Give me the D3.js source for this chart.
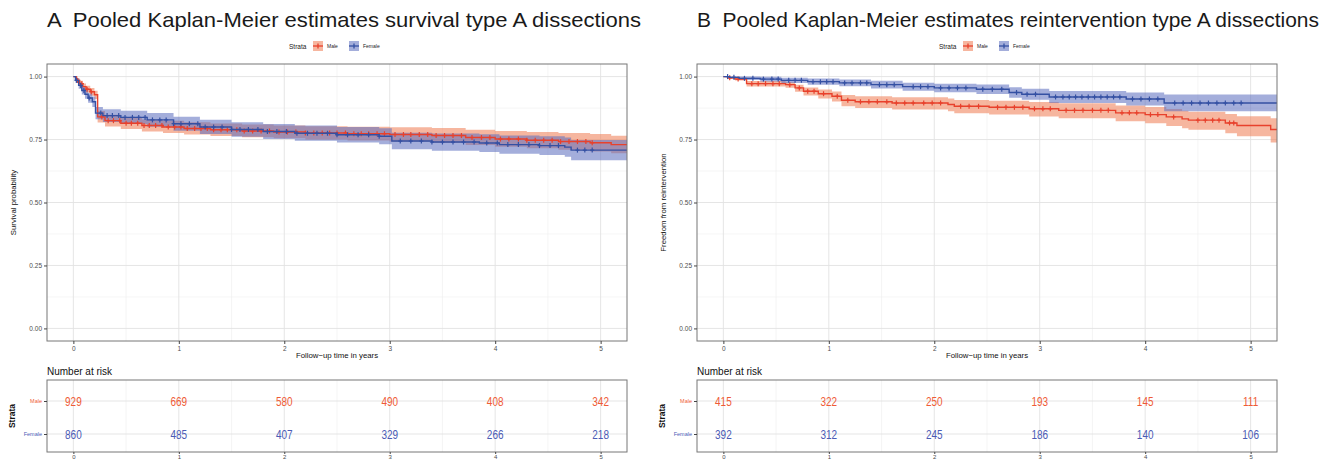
<!DOCTYPE html>
<html>
<head>
<meta charset="utf-8">
<script src="https://cdn.jsdelivr.net/npm/d3@7"></script>
<style>
  body { margin: 0; background: #fff; }
  svg { font-family: "Liberation Sans", Arial, sans-serif; }
</style>
</head>
<body>
<svg id="chart" width="1334" height="461"></svg>
<script>
// ---- data ----
let strata = ["Male", "Female"];
let riskTimes = [0, 1, 2, 3, 4, 5];
let xTicks = [0, 1, 2, 3, 4, 5];
let yTicks = [0, 0.25, 0.5, 0.75, 1];

// panel A: survival
let survMaleT  = [0,0.03,0.06,0.09,0.12,0.16,0.20,0.23,0.30,0.45,0.65,0.85,1.05,1.30,1.60,1.90,2.20,2.60,3.00,3.40,3.72,4.00,4.30,4.60,4.90,5.10,5.25];
let survMaleS  = [1,0.985,0.972,0.960,0.950,0.940,0.928,0.840,0.825,0.815,0.806,0.800,0.794,0.789,0.784,0.780,0.776,0.773,0.770,0.766,0.758,0.752,0.747,0.742,0.737,0.730,0.730];
let survMaleLo = [1,0.977,0.961,0.947,0.936,0.924,0.911,0.818,0.802,0.792,0.782,0.776,0.770,0.764,0.759,0.755,0.750,0.746,0.742,0.737,0.728,0.721,0.715,0.709,0.703,0.696,0.696];
let survMaleHi = [1,0.993,0.983,0.973,0.964,0.955,0.944,0.863,0.848,0.839,0.830,0.825,0.819,0.814,0.810,0.806,0.803,0.801,0.799,0.796,0.789,0.784,0.780,0.776,0.772,0.765,0.765];
let survMaleCens = [0.04,0.08,0.13,0.17,0.27,0.33,0.38,0.44,0.5,0.55,0.61,0.67,0.72,0.78,0.84,0.9,0.96,1.02,1.08,1.15,1.21,1.27,1.33,1.4,1.46,1.55,1.62,1.7,1.78,1.86,1.95,2.03,2.11,2.2,2.28,2.36,2.43,2.5,2.58,2.66,2.73,2.8,2.88,2.95,3.05,3.13,3.2,3.28,3.36,3.44,3.52,3.6,3.68,3.78,3.87,3.95,4.05,4.13,4.22,4.3,4.38,4.46,4.54,4.62,4.7,4.78,4.86,4.92];

let survFemT  = [0,0.02,0.05,0.08,0.11,0.14,0.18,0.21,0.28,0.45,0.70,0.95,1.20,1.50,1.80,2.10,2.50,2.90,3.02,3.40,3.85,4.04,4.42,4.66,4.72,5.25];
let survFemS  = [1,0.985,0.965,0.945,0.930,0.915,0.900,0.855,0.845,0.838,0.828,0.813,0.800,0.790,0.782,0.775,0.769,0.763,0.744,0.740,0.736,0.730,0.726,0.720,0.708,0.708];
let survFemLo = [1,0.976,0.952,0.929,0.912,0.896,0.879,0.831,0.820,0.812,0.801,0.785,0.772,0.761,0.752,0.745,0.738,0.731,0.711,0.706,0.701,0.694,0.689,0.682,0.668,0.668];
let survFemHi = [1,0.994,0.978,0.961,0.948,0.934,0.921,0.879,0.870,0.864,0.855,0.841,0.829,0.819,0.812,0.806,0.800,0.795,0.777,0.774,0.771,0.766,0.763,0.758,0.748,0.748];
let survFemCens = [0.03,0.07,0.1,0.15,0.26,0.32,0.37,0.43,0.49,0.56,0.62,0.68,0.75,0.82,0.88,0.95,1.02,1.1,1.18,1.25,1.33,1.41,1.5,1.58,1.66,1.75,1.84,1.93,2.02,2.12,2.22,2.31,2.41,2.5,2.6,2.7,2.8,2.9,3.1,3.2,3.3,3.4,3.5,3.6,3.7,3.8,3.92,4.02,4.12,4.22,4.32,4.42,4.52,4.6,4.78,4.85,4.92];

let survRiskMale = [929, 669, 580, 490, 408, 342];
let survRiskFem  = [860, 485, 407, 329, 266, 218];

// panel B: reintervention
let reintMaleT  = [0,0.05,0.11,0.22,0.59,0.68,0.76,0.90,1.03,1.12,1.25,1.60,2.13,2.19,2.52,2.90,3.18,3.72,4.00,4.20,4.35,4.41,4.76,4.87,5.19,5.25];
let reintMaleS  = [1,0.995,0.990,0.972,0.968,0.955,0.942,0.932,0.922,0.906,0.900,0.895,0.889,0.882,0.878,0.872,0.866,0.856,0.849,0.840,0.832,0.827,0.816,0.806,0.790,0.790];
let reintMaleLo = [1,0.991,0.984,0.961,0.956,0.940,0.925,0.913,0.901,0.882,0.875,0.869,0.862,0.854,0.849,0.842,0.835,0.823,0.815,0.804,0.795,0.789,0.775,0.763,0.738,0.738];
let reintMaleHi = [1,0.999,0.995,0.982,0.978,0.968,0.957,0.949,0.941,0.927,0.922,0.918,0.913,0.907,0.904,0.899,0.894,0.885,0.879,0.871,0.864,0.860,0.851,0.843,0.835,0.835];
let reintMaleCens = [0.06,0.14,0.27,0.33,0.4,0.47,0.53,0.63,0.72,0.8,0.86,0.95,1.08,1.18,1.3,1.38,1.46,1.55,1.64,1.72,1.8,1.9,1.98,2.06,2.25,2.33,2.42,2.6,2.68,2.76,2.84,2.95,3.03,3.1,3.25,3.33,3.41,3.5,3.58,3.65,3.78,3.85,3.92,4.05,4.12,4.27,4.5,4.57,4.64,4.7,4.8,4.84];

let reintFemT  = [0,0.06,0.15,0.35,0.55,0.80,1.10,1.40,1.70,2.00,2.40,2.71,2.83,3.09,3.82,4.18,5.25];
let reintFemS  = [1,0.997,0.993,0.990,0.985,0.980,0.975,0.968,0.960,0.955,0.950,0.937,0.930,0.919,0.911,0.895,0.895];
let reintFemLo = [1,0.992,0.986,0.981,0.975,0.968,0.962,0.953,0.944,0.938,0.931,0.916,0.908,0.895,0.885,0.862,0.862];
let reintFemHi = [1,1,1,0.999,0.995,0.992,0.988,0.983,0.976,0.972,0.969,0.958,0.952,0.943,0.937,0.929,0.929];
let reintFemCens = [0.04,0.1,0.2,0.28,0.38,0.46,0.52,0.62,0.68,0.74,0.85,0.92,0.98,1.04,1.15,1.22,1.3,1.36,1.48,1.55,1.62,1.8,1.87,1.94,2.06,2.14,2.22,2.3,2.46,2.55,2.64,2.78,2.88,2.96,3.15,3.22,3.28,3.34,3.4,3.46,3.52,3.58,3.64,3.7,3.76,3.88,3.96,4.04,4.12,4.28,4.36,4.44,4.52,4.6,4.68,4.76,4.84,4.91];

let reintRiskMale = [415, 322, 250, 193, 145, 111];
let reintRiskFem  = [392, 312, 245, 186, 140, 106];

// ---- styles ----
let lineCol = {Male: "#e8412c", Female: "#3450a3"};
let fillCol = {Male: "#ee7a50", Female: "#5a6bbe"};
let textCol = {Male: "#ef5b36", Female: "#4b5bb5"};

let svg = d3.select("#chart");

function zip(t, s, lo, hi) {
    return t.map((d, i) => ({t: d, s: s[i], lo: lo[i], hi: hi[i]}));
}

function styleAxis(a) {
    a.select(".domain").remove();
    a.selectAll(".tick line").attr("stroke", "#444");
    a.selectAll(".tick text").attr("font-size", 6.5).attr("fill", "#4d4d4d")
        .attr("font-family", "Liberation Sans, Arial, sans-serif");
}

function drawPanel(p) {
    let left = p.left, right = p.left + 580, top = 64, bottom = 341;
    let x = d3.scaleLinear().domain([-0.25, 5.25]).range([left, right]);
    let y = d3.scaleLinear().domain([-0.05, 1.05]).range([bottom, top]);

    // title
    svg.append("text")
        .attr("x", left).attr("y", 27)
        .attr("font-size", 21).attr("fill", "#1a1a1a")
        .attr("xml:space", "preserve")
        .attr("textLength", p.titleWidth).attr("lengthAdjust", "spacingAndGlyphs")
        .text(p.title);

    // legend
    let lg = svg.append("g").attr("transform", "translate(" + (left + 290) + ",46)");
    lg.append("text").attr("x", -48).attr("y", 2.5).attr("font-size", 6.5)
        .attr("fill", "#222").text("Strata");
    [["Male", -24], ["Female", 12]].forEach(function(k) {
        let g = lg.append("g").attr("transform", "translate(" + k[1] + ",-5)");
        g.append("rect").attr("width", 10).attr("height", 10)
            .attr("fill", fillCol[k[0]]).attr("fill-opacity", 0.55);
        g.append("line").attr("x1", 0).attr("x2", 10).attr("y1", 5).attr("y2", 5)
            .attr("stroke", lineCol[k[0]]).attr("stroke-width", 1.3);
        g.append("line").attr("x1", 5).attr("x2", 5).attr("y1", 2.5).attr("y2", 7.5)
            .attr("stroke", lineCol[k[0]]).attr("stroke-width", 1.3);
        lg.append("text").attr("x", k[1] + 14).attr("y", 2.2).attr("font-size", 5)
            .attr("fill", "#222").text(k[0]);
    });

    // grid
    let grid = svg.append("g");
    let minorX = d3.range(-0.5, 5.5, 1).filter(d => x(d) >= left && x(d) <= right);
    let minorY = [0.125, 0.375, 0.625, 0.875];
    grid.selectAll(".mx").data(minorX).enter().append("line")
        .attr("x1", d => x(d)).attr("x2", d => x(d)).attr("y1", top).attr("y2", bottom)
        .attr("stroke", "#efefef").attr("stroke-width", 0.6);
    grid.selectAll(".my").data(minorY).enter().append("line")
        .attr("x1", left).attr("x2", right).attr("y1", d => y(d)).attr("y2", d => y(d))
        .attr("stroke", "#efefef").attr("stroke-width", 0.6);
    grid.selectAll(".gx").data(xTicks).enter().append("line")
        .attr("x1", d => x(d)).attr("x2", d => x(d)).attr("y1", top).attr("y2", bottom)
        .attr("stroke", "#e2e2e2").attr("stroke-width", 0.9);
    grid.selectAll(".gy").data(yTicks).enter().append("line")
        .attr("x1", left).attr("x2", right).attr("y1", d => y(d)).attr("y2", d => y(d))
        .attr("stroke", "#e2e2e2").attr("stroke-width", 0.9);

    // clip
    let clipId = "clip" + p.id;
    svg.append("clipPath").attr("id", clipId).append("rect")
        .attr("x", left).attr("y", top).attr("width", right - left).attr("height", bottom - top);
    let plot = svg.append("g").attr("clip-path", "url(#" + clipId + ")");

    let area = d3.area().curve(d3.curveStepAfter)
        .x(d => x(d.t)).y0(d => y(d.lo)).y1(d => y(d.hi));
    let line = d3.line().curve(d3.curveStepAfter)
        .x(d => x(d.t)).y(d => y(d.s));

    p.curves.forEach(function(c) {
        plot.append("path").datum(c.data).attr("d", area)
            .attr("fill", fillCol[c.key]).attr("fill-opacity", 0.55);
    });
    p.curves.forEach(function(c) {
        plot.append("path").datum(c.data).attr("d", line)
            .attr("fill", "none").attr("stroke", lineCol[c.key]).attr("stroke-width", 1.4);
        let ts = c.data.map(d => d.t);
        let cens = c.cens.map(function(ct) {
            let i = d3.bisectRight(ts, ct) - 1;
            return {t: ct, s: c.data[i].s};
        });
        let m = plot.append("g").attr("stroke", lineCol[c.key]).attr("stroke-width", 1.2);
        m.selectAll(".h").data(cens).enter().append("line")
            .attr("x1", d => x(d.t) - 2).attr("x2", d => x(d.t) + 2)
            .attr("y1", d => y(d.s)).attr("y2", d => y(d.s));
        m.selectAll(".v").data(cens).enter().append("line")
            .attr("x1", d => x(d.t)).attr("x2", d => x(d.t))
            .attr("y1", d => y(d.s) - 2.5).attr("y2", d => y(d.s) + 2.5);
    });

    // border
    svg.append("rect").attr("x", left).attr("y", top)
        .attr("width", right - left).attr("height", bottom - top)
        .attr("fill", "none").attr("stroke", "#777").attr("stroke-width", 1);

    // axes
    let xAxis = svg.append("g").attr("transform", "translate(0," + bottom + ")")
        .call(d3.axisBottom(x).tickValues(xTicks).tickFormat(d3.format("d")).tickSize(3).tickPadding(2));
    let yAxis = svg.append("g").attr("transform", "translate(" + left + ",0)")
        .call(d3.axisLeft(y).tickValues(yTicks).tickFormat(d3.format(".2f")).tickSize(3).tickPadding(2));
    styleAxis(xAxis);
    styleAxis(yAxis);

    svg.append("text").attr("x", (left + right) / 2).attr("y", 358)
        .attr("text-anchor", "middle").attr("font-size", 7.8).attr("fill", "#111")
        .text("Follow\u2212up time in years");
    svg.append("text")
        .attr("transform", "translate(" + (left - 31) + "," + ((top + bottom) / 2) + ") rotate(-90)")
        .attr("text-anchor", "middle").attr("font-size", 7.8).attr("fill", "#111")
        .text(p.ylab);

    // risk table
    let rTop = 380, rBottom = 452;
    let ry = d3.scalePoint().domain(strata).range([401, 434]);
    svg.append("text").attr("x", left).attr("y", 375).attr("font-size", 10)
        .attr("fill", "#111").text("Number at risk");
    let rg = svg.append("g");
    rg.selectAll(".rmx").data(minorX).enter().append("line")
        .attr("x1", d => x(d)).attr("x2", d => x(d)).attr("y1", rTop).attr("y2", rBottom)
        .attr("stroke", "#efefef").attr("stroke-width", 0.6);
    rg.selectAll(".rgx").data(xTicks).enter().append("line")
        .attr("x1", d => x(d)).attr("x2", d => x(d)).attr("y1", rTop).attr("y2", rBottom)
        .attr("stroke", "#e2e2e2").attr("stroke-width", 0.9);
    rg.selectAll(".rgy").data(strata).enter().append("line")
        .attr("x1", left).attr("x2", right).attr("y1", d => ry(d)).attr("y2", d => ry(d))
        .attr("stroke", "#e2e2e2").attr("stroke-width", 0.9);

    p.risk.forEach(function(r) {
        rg.selectAll(".n" + r.key).data(r.values).enter().append("text")
            .attr("transform", (d, i) => "translate(" + x(riskTimes[i]) + "," + (ry(r.key) + 4.5) + ") scale(0.8,1)")
            .attr("text-anchor", "middle").attr("font-size", 12.5)
            .attr("fill", textCol[r.key]).text(d => d);
    });

    svg.append("rect").attr("x", left).attr("y", rTop)
        .attr("width", right - left).attr("height", rBottom - rTop)
        .attr("fill", "none").attr("stroke", "#777").attr("stroke-width", 1);

    // bottom ticks of the risk table sit right at the page edge
    let rx = svg.append("g").attr("transform", "translate(0," + rBottom + ")")
        .call(d3.axisBottom(x).tickValues(xTicks).tickFormat(d3.format("d")).tickSize(2).tickPadding(1));
    let ryAx = svg.append("g").attr("transform", "translate(" + left + ",0)")
        .call(d3.axisLeft(ry).tickSize(3).tickPadding(2));
    styleAxis(rx);
    styleAxis(ryAx);
    rx.selectAll(".tick text").attr("font-size", 6);
    ryAx.selectAll(".tick text").attr("font-size", 5.5).attr("fill", d => textCol[d]);

    svg.append("text")
        .attr("transform", "translate(" + (left - 32) + "," + ((rTop + rBottom) / 2) + ") rotate(-90)")
        .attr("text-anchor", "middle").attr("font-size", 8.5).attr("font-weight", "bold")
        .attr("fill", "#111").text("Strata");
}

drawPanel({
    id: "A", left: 47, titleWidth: 594,
    title: "A  Pooled Kaplan-Meier estimates survival type A dissections",
    ylab: "Survival probability",
    curves: [
        {key: "Male", data: zip(survMaleT, survMaleS, survMaleLo, survMaleHi), cens: survMaleCens},
        {key: "Female", data: zip(survFemT, survFemS, survFemLo, survFemHi), cens: survFemCens}
    ],
    risk: [{key: "Male", values: survRiskMale}, {key: "Female", values: survRiskFem}]
});

drawPanel({
    id: "B", left: 697, titleWidth: 622,
    title: "B  Pooled Kaplan-Meier estimates reintervention type A dissections",
    ylab: "Freedom from reintervention",
    curves: [
        {key: "Male", data: zip(reintMaleT, reintMaleS, reintMaleLo, reintMaleHi), cens: reintMaleCens},
        {key: "Female", data: zip(reintFemT, reintFemS, reintFemLo, reintFemHi), cens: reintFemCens}
    ],
    risk: [{key: "Male", values: reintRiskMale}, {key: "Female", values: reintRiskFem}]
});
</script>
</body>
</html>
